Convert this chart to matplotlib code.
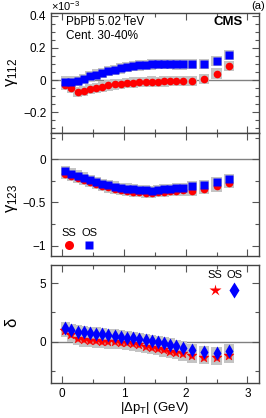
import numpy as np
import matplotlib
matplotlib.use('Agg')
import matplotlib.pyplot as plt
from matplotlib.ticker import MultipleLocator, FuncFormatter

plt.rcParams['font.family'] = ['Liberation Sans', 'DejaVu Sans']
plt.rcParams['mathtext.fontset'] = 'custom'
plt.rcParams['mathtext.rm'] = 'Liberation Sans'
plt.rcParams['mathtext.it'] = 'Liberation Sans:italic'
plt.rcParams['axes.unicode_minus'] = True

# |dpT| bin centres (GeV)
dpt = [0.05, 0.15, 0.25, 0.35, 0.45, 0.55, 0.65, 0.75, 0.85, 0.95,
       1.05, 1.15, 1.25, 1.35, 1.45, 1.55, 1.65, 1.75, 1.85, 1.95,
       2.1, 2.3, 2.5, 2.7]

# gamma_112 in units of 1e-3
g112_ss = [-0.030, -0.050, -0.077, -0.068, -0.058, -0.049, -0.041, -0.034, -0.028, -0.023,
           -0.019, -0.016, -0.013, -0.011, -0.010, -0.011, -0.009, -0.008, -0.008, -0.007,
           -0.006, 0.004, 0.040, 0.088]
g112_os = [-0.010, -0.010, -0.008, 0.008, 0.022, 0.034, 0.045, 0.055, 0.064, 0.072,
           0.080, 0.086, 0.091, 0.095, 0.097, 0.098, 0.098, 0.098, 0.097, 0.097,
           0.098, 0.100, 0.120, 0.155]

# gamma_123 in units of 1e-3
g123_ss = [-0.165, -0.190, -0.215, -0.240, -0.265, -0.288, -0.308, -0.326, -0.342, -0.356,
           -0.366, -0.374, -0.381, -0.386, -0.392, -0.382, -0.374, -0.369, -0.364, -0.360,
           -0.365, -0.348, -0.315, -0.278]
g123_os = [-0.140, -0.165, -0.190, -0.213, -0.238, -0.262, -0.283, -0.300, -0.316, -0.330,
           -0.340, -0.348, -0.355, -0.360, -0.366, -0.355, -0.347, -0.342, -0.337, -0.333,
           -0.310, -0.298, -0.262, -0.230]

# delta
d_ss = [0.92, 0.55, 0.23, 0.14, 0.10, 0.05, 0.00, -0.03, -0.06, -0.10,
        -0.15, -0.22, -0.32, -0.42, -0.52, -0.62, -0.72, -0.84, -0.96, -1.09,
        -1.25, -1.38, -1.42, -1.26]
d_os = [1.14, 1.00, 0.86, 0.80, 0.74, 0.68, 0.62, 0.56, 0.50, 0.43,
        0.36, 0.28, 0.20, 0.12, 0.04, -0.05, -0.15, -0.26, -0.38, -0.50,
        -0.71, -0.91, -0.96, -0.78]

# systematic box half-heights
sys112 = 0.032
sys123 = 0.060
sysd = 0.55

red = '#ff0000'
blue = '#0000ff'
grey = '#c4c4c4'

fig = plt.figure(figsize=(2.66, 4.18), dpi=100)
L, W = 0.192, 0.780
ax1 = fig.add_axes([L, 0.681, W, 0.287])
ax2 = fig.add_axes([L, 0.3876, W, 0.2934])
ax3 = fig.add_axes([L, 0.0844, W, 0.2816])

x = np.array(dpt)
bw = np.where(x > 2.0, 0.17, 0.15)


def fmt(v, pos):
    s = '%g' % round(v, 6)
    return s.replace('-', '\u2212')


def boxes(ax, y, s):
    y = np.array(y)
    ax.bar(x, 2 * s, width=bw, bottom=y - s, color=grey, edgecolor='none', zorder=2)


def style(ax, ymaj, ymin, ylim):
    ax.set_xlim(-0.18, 3.18)
    ax.set_ylim(*ylim)
    ax.axhline(0, color='#808080', lw=1.0, zorder=1)
    ax.xaxis.set_major_locator(MultipleLocator(1))
    ax.xaxis.set_minor_locator(MultipleLocator(0.5))
    ax.yaxis.set_major_locator(MultipleLocator(ymaj))
    ax.yaxis.set_minor_locator(MultipleLocator(ymin))
    ax.yaxis.set_major_formatter(FuncFormatter(fmt))
    ax.tick_params(which='both', direction='in', top=True, right=True, labelsize=8.5,
                   color='#555555', width=0.8)
    ax.tick_params(which='major', length=5)
    ax.tick_params(which='minor', length=3)
    for sp in ax.spines.values():
        sp.set_color('#444444')
        sp.set_linewidth(1.0)


# panel 1
boxes(ax1, g112_ss, sys112)
boxes(ax1, g112_os, sys112)
ax1.plot(x, g112_ss, 'o', color=red, ms=5.5, mec='none', zorder=3)
ax1.plot(x, g112_os, 's', color=blue, ms=5.5, mec='none', zorder=4)
style(ax1, 0.2, 0.05, (-0.333, 0.416))
ax1.tick_params(labelbottom=False)
ax1.text(0.072, 0.925, 'PbPb 5.02 TeV', transform=ax1.transAxes, fontsize=8.5, va='center')
ax1.text(0.072, 0.815, 'Cent. 30-40%', transform=ax1.transAxes, fontsize=8.5, va='center')
ax1.text(0.925, 0.925, 'CMS', transform=ax1.transAxes, fontsize=9.5, fontweight='bold',
         ha='right', va='center')
fig.text(0.192, 0.986, r'$\times$10$^{-3}$', fontsize=8, va='center', ha='left')
fig.text(0.997, 0.986, '(a)', fontsize=8, va='center', ha='right')

# panel 2
boxes(ax2, g123_ss, sys123)
boxes(ax2, g123_os, sys123)
ax2.plot(x, g123_ss, 'o', color=red, ms=5.5, mec='none', zorder=3)
ax2.plot(x, g123_os, 's', color=blue, ms=5.5, mec='none', zorder=4)
style(ax2, 0.5, 0.25, (-1.12, 0.30))
ax2.tick_params(labelbottom=False)
ax2.text(0.087, 0.185, 'SS', transform=ax2.transAxes, fontsize=8, ha='center', va='center')
ax2.text(0.183, 0.185, 'OS', transform=ax2.transAxes, fontsize=8, ha='center', va='center')
ax2.plot([0.087], [0.09], 'o', color=red, ms=6.5, mec='none', transform=ax2.transAxes)
ax2.plot([0.183], [0.09], 's', color=blue, ms=6, mec='none', transform=ax2.transAxes)

# panel 3
boxes(ax3, d_ss, sysd)
boxes(ax3, d_os, sysd)
ax3.plot(x, d_ss, '*', color=red, ms=7.5, mec=red, mew=0.3, zorder=3)
ax3.plot(x, d_os, 'd', color=blue, ms=7.5, mec='none', zorder=4)
style(ax3, 5, 2.5, (-3.5, 6.55))
ax3.xaxis.set_major_formatter(FuncFormatter(fmt))
ax3.set_xlabel('|Δp$_{\\rm T}$| (GeV)', fontsize=9.5, labelpad=0)
ax3.text(0.79, 0.915, 'SS', transform=ax3.transAxes, fontsize=8, ha='center', va='center')
ax3.text(0.883, 0.915, 'OS', transform=ax3.transAxes, fontsize=8, ha='center', va='center')
ax3.plot([0.79], [0.788], '*', color=red, ms=9, mec='none', transform=ax3.transAxes)
ax3.plot([0.883], [0.788], 'd', color=blue, ms=8, mec='none', transform=ax3.transAxes)

# y titles, upright greek as in the reference
fig.text(12 / 266, 1 - 72 / 418, 'γ$_{112}$', fontsize=12, rotation=90, ha='center', va='center')
fig.text(12 / 266, 1 - 198 / 418, 'γ$_{123}$', fontsize=12, rotation=90, ha='center', va='center')
fig.text(12 / 266, 1 - 322 / 418, 'δ', fontsize=12, rotation=90, ha='center', va='center')

fig.savefig('out.png', dpi=100)
